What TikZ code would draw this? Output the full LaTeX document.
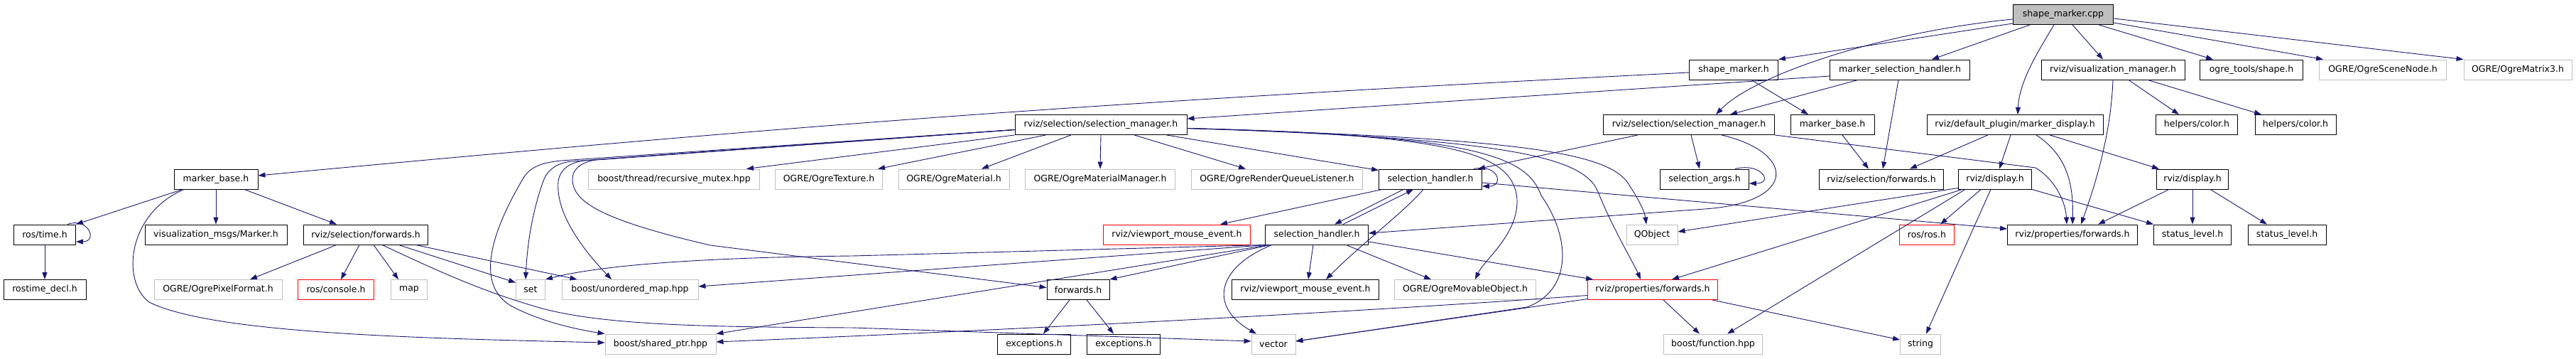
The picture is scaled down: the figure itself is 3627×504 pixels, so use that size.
\documentclass[tikz,border=0pt]{standalone}
\usepackage{fontspec}
\setmainfont{DejaVu Sans}
\usepackage{tikz}
\usetikzlibrary{arrows.meta}
\definecolor{edgeblue}{HTML}{191970}
\definecolor{grey75}{HTML}{BFBFBF}
\begin{document}
\begin{tikzpicture}[x=1pt, y=-1pt,
    box/.style={draw, line width=0.9pt, minimum height=28pt, inner sep=0pt, font=\fontsize{12.5}{15}\selectfont},
    doc/.style={box, draw=black},
    ext/.style={box, draw=grey75},
    trunc/.style={box, draw=red},
    root/.style={box, draw=black, fill=grey75},
    dep/.style={draw=edgeblue, line width=0.9pt, -{Triangle[length=10pt,width=7pt]}}]
    \useasboundingbox (0,0) rectangle (3627,504);

    \node [root, minimum width=141pt] (smc) at (2905,20.5) {shape\_marker.cpp};

    \node [doc, minimum width=125pt] (smh) at (2441,98) {shape\_marker.h};
    \node [doc, minimum width=197pt] (msh) at (2675,98) {marker\_selection\_handler.h};
    \node [doc, minimum width=202pt] (vism) at (2975,98) {rviz/visualization\_manager.h};
    \node [doc, minimum width=145pt] (ogreshape) at (3170,98) {ogre\_tools/shape.h};
    \node [ext, minimum width=179pt] (scenenode) at (3355,98) {OGRE/OgreSceneNode.h};
    \node [ext, minimum width=152pt] (matrix3) at (3545,98) {OGRE/OgreMatrix3.h};

    \node [doc, minimum width=242pt] (selmgrL) at (1550,175.5) {rviz/selection/selection\_manager.h};
    \node [doc, minimum width=241pt] (selmgrR) at (2378,175.5) {rviz/selection/selection\_manager.h};
    \node [doc, minimum width=118pt] (mbaseR) at (2580,175.5) {marker\_base.h};
    \node [doc, minimum width=248pt] (mdisp) at (2837,175.5) {rviz/default\_plugin/marker\_display.h};
    \node [doc, minimum width=115pt] (colorA) at (3093,175.5) {helpers/color.h};
    \node [doc, minimum width=114pt] (colorB) at (3232,175.5) {helpers/color.h};

    \node [doc, minimum width=118pt] (mbaseL) at (304,252) {marker\_base.h};
    \node [ext, minimum width=241pt] (rmutex) at (949,252) {boost/thread/recursive\_mutex.hpp};
    \node [ext, minimum width=151pt] (texture) at (1167,252) {OGRE/OgreTexture.h};
    \node [ext, minimum width=156pt] (material) at (1343,252) {OGRE/OgreMaterial.h};
    \node [ext, minimum width=211pt] (matmgr) at (1549,252) {OGRE/OgreMaterialManager.h};
    \node [ext, minimum width=241pt] (rql) at (1798,252) {OGRE/OgreRenderQueueListener.h};
    \node [doc, minimum width=145pt] (shandA) at (2014,252) {selection\_handler.h};
    \node [doc, minimum width=125pt] (sargs) at (2400,252) {selection\_args.h};
    \node [doc, minimum width=175pt] (selfwdR) at (2649,252) {rviz/selection/forwards.h};
    \node [doc, minimum width=103pt] (dispA) at (2809,252) {rviz/display.h};
    \node [doc, minimum width=101pt] (dispB) at (3087,252) {rviz/display.h};

    \node [doc, minimum width=87pt] (rostime) at (63,330) {ros/time.h};
    \node [doc, minimum width=200pt] (vmarker) at (304,330) {visualization\_msgs/Marker.h};
    \node [doc, minimum width=175pt] (selfwdL) at (515,330) {rviz/selection/forwards.h};
    \node [trunc, minimum width=207pt] (vmeA) at (1657,330) {rviz/viewport\_mouse\_event.h};
    \node [doc, minimum width=145pt] (shandB) at (1854,330) {selection\_handler.h};
    \node [ext, minimum width=72pt] (qobject) at (2326,330) {QObject};
    \node [trunc, minimum width=77pt] (rosros) at (2713,330) {ros/ros.h};
    \node [doc, minimum width=183pt] (propfwdR) at (2918,330) {rviz/properties/forwards.h};
    \node [doc, minimum width=109pt] (statusA) at (3087,330) {status\_level.h};
    \node [doc, minimum width=110pt] (statusB) at (3220,330) {status\_level.h};

    \node [doc, minimum width=116pt] (rostimedecl) at (63,407.5) {rostime\_decl.h};
    \node [ext, minimum width=180pt] (pixfmt) at (307,407.5) {OGRE/OgrePixelFormat.h};
    \node [trunc, minimum width=107pt] (console) at (473,407.5) {ros/console.h};
    \node [ext, minimum width=51pt] (map) at (576,407.5) {map};
    \node [ext, minimum width=41pt] (set) at (747,407.5) {set};
    \node [ext, minimum width=192pt] (umap) at (887,407.5) {boost/unordered\_map.hpp};
    \node [doc, minimum width=88pt] (fwd) at (1518,407.5) {forwards.h};
    \node [doc, minimum width=207pt] (vmeB) at (1838,407.5) {rviz/viewport\_mouse\_event.h};
    \node [ext, minimum width=199pt] (movable) at (2063,407.5) {OGRE/OgreMovableObject.h};
    \node [trunc, minimum width=183pt] (propfwdA) at (2327,407.5) {rviz/properties/forwards.h};

    \node [ext, minimum width=156pt] (sharedptr) at (930,484) {boost/shared\_ptr.hpp};
    \node [doc, minimum width=103pt] (excA) at (1456,484) {exceptions.h};
    \node [doc, minimum width=103pt] (excB) at (1582,484) {exceptions.h};
    \node [ext, minimum width=62pt] (vector) at (1793,484) {vector};
    \node [ext, minimum width=139pt] (function) at (2412,484) {boost/function.hpp};
    \node [ext, minimum width=57pt] (string) at (2704,484) {string};

    \draw [dep] ([yshift=2pt]smc.south west) -- (smh.north east);
    \draw [dep] ([yshift=8pt]smc.south west) .. controls (2650,45) and (2470,105) .. ([xshift=38pt]selmgrR.north);
    \draw [dep] ([xshift=24pt]smc.south west) -- ([xshift=45pt]msh.north);
    \draw [dep] ([xshift=-13pt]smc.south) .. controls (2868,75) and (2843,115) .. ([xshift=4pt]mdisp.north);
    \draw [dep] ([xshift=13pt]smc.south) -- ([xshift=-14pt]vism.north);
    \draw [dep] ([xshift=50pt]smc.south) -- ([xshift=-54pt]ogreshape.north);
    \draw [dep] ([yshift=3pt]smc.south east) -- ([xshift=6pt]scenenode.north west);
    \draw [dep] ([yshift=9pt]smc.south east) -- (matrix3.north west);

    \draw [dep] ([yshift=-4pt]smh.west) .. controls (1579,142) and (1163,172) .. ([yshift=5pt]mbaseL.east);
    \draw [dep] ([xshift=25pt]smh.south) -- ([xshift=-34pt]mbaseR.north);

    \draw [dep] ([yshift=-9pt]msh.west) -- ([yshift=8.5pt]selmgrL.east);
    \draw [dep] ([xshift=40pt]msh.south west) -- ([xshift=58pt]selmgrR.north);
    \draw [dep] ([xshift=-2pt]msh.south) -- ([xshift=2pt]selfwdR.north);

    \draw [dep] ([xshift=22pt]vism.south) -- ([xshift=-25pt]colorA.north);
    \draw [dep] ([xshift=49pt]vism.south) -- ([xshift=-48pt]colorB.north);
    \draw [dep] (vism.south) .. controls (2972,190) and (2950,260) .. ([xshift=12pt]propfwdR.north);

    \draw [dep] ([xshift=49pt]selmgrR.south west) -- ([xshift=-6pt]shandA.north east);
    \draw [dep] ([xshift=3pt]selmgrR.south) -- ([xshift=-7pt]sargs.north);
    \draw [dep] ([xshift=46pt]selmgrR.south) .. controls (2530,215) and (2530,285) .. (2400,294) -- ([yshift=2pt]shandB.east);
    \draw [dep] (selmgrR.south east) -- (2866,236) .. controls (2890,250) and (2908,280) .. ([xshift=-8pt]propfwdR.north);
    \draw [dep] ([xshift=-20pt]sargs.north east) .. controls (2480,228) and (2498,258) .. ([yshift=-6pt]sargs.east);

    \draw [dep] ([xshift=14pt]mbaseR.south) -- ([xshift=-18pt]selfwdR.north);
    \draw [dep] ([xshift=-38pt]mdisp.south) -- ([xshift=40pt]selfwdR.north);
    \draw [dep] ([xshift=-6pt]mdisp.south) -- ([xshift=6pt]dispA.north);
    \draw [dep] ([xshift=30pt]mdisp.south) .. controls (2905,215) and (2920,250) .. (propfwdR.north);
    \draw [dep] ([xshift=49pt]mdisp.south) -- ([xshift=4pt]dispB.north west);

    \draw [dep] ([xshift=-33pt]dispB.south) -- ([xshift=36pt]propfwdR.north);
    \draw [dep] (dispB.south) -- (statusA.north);
    \draw [dep] ([xshift=25pt]dispB.south) -- ([xshift=-28pt]statusB.north);

    \draw [dep] (dispA.south east) -- (statusA.north west);
    \draw [dep] ([xshift=-20pt]dispA.south) -- ([xshift=19pt]rosros.north);
    \draw [dep] ([xshift=-6pt]dispA.south) -- ([xshift=8pt]string.north);
    \draw [dep] ([xshift=10pt]dispA.south west) -- ([xshift=20pt]function.north);
    \draw [dep] ([xshift=6pt]dispA.south west) -- ([xshift=27pt]propfwdA.north);
    \draw [dep] ([yshift=2pt]dispA.south west) -- ([yshift=4pt]qobject.east);

    \draw [dep] (selmgrL.south west) -- ([xshift=102pt]rmutex.north);
    \draw [dep] ([xshift=44pt]selmgrL.south west) -- ([xshift=69pt]texture.north);
    \draw [dep] ([xshift=-42pt]selmgrL.south) -- ([xshift=39pt]material.north);
    \draw [dep] (selmgrL.south) -- (matmgr.north);
    \draw [dep] ([xshift=47pt]selmgrL.south) -- ([xshift=-44pt]rql.north);
    \draw [dep] ([xshift=-29pt]selmgrL.south east) -- ([yshift=-2pt]shandA.north west);
    \draw [dep] ([yshift=-7pt]selmgrL.west) -- (790,226) .. controls (760,229) and (745,236) .. (736,252) .. controls (690,330) and (670,400) .. (719,430) .. controls (760,452) and (810,463) .. (sharedptr.north west);
    \draw [dep] ([yshift=-7pt]selmgrL.west) -- (805,227) .. controls (785,229) and (772,238) .. (766,252) .. controls (748,300) and (742,350) .. ([xshift=-7pt]set.north);
    \draw [dep] ([yshift=-7pt]selmgrL.west) -- (822,226) .. controls (800,229) and (788,240) .. (786,255) .. controls (782,300) and (820,350) .. ([xshift=-26pt]umap.north);
    \draw [dep] ([yshift=-7pt]selmgrL.west) -- (838,225) .. controls (815,229) and (806,240) .. (806,252) .. controls (806,285) and (850,310) .. (1000,345) -- ([yshift=3pt]fwd.west);
    \draw [dep] ([yshift=-5pt]selmgrL.east) .. controls (2050,190) and (2130,215) .. (2136,280) .. controls (2138,330) and (2090,365) .. ([xshift=14pt]movable.north);
    \draw [dep] ([yshift=-5pt]selmgrL.east) .. controls (2080,190) and (2150,220) .. (2170,275) .. controls (2215,340) and (2210,410) .. (2150,432) -- ([yshift=4pt]vector.east);
    \draw [dep] ([yshift=-5pt]selmgrL.east) .. controls (2120,195) and (2230,220) .. (2250,270) .. controls (2270,320) and (2300,370) .. ([xshift=-17pt]propfwdA.north);
    \draw [dep] ([yshift=-5pt]selmgrL.east) .. controls (2150,195) and (2270,215) .. (2295,262) .. controls (2310,285) and (2316,300) .. ([xshift=-8pt]qobject.north);

    \draw [dep] ([xshift=-12pt]shandA.north east) .. controls (2110,230) and (2118,262) .. ([yshift=-10pt]shandA.east);
    \draw [dep] ([xshift=-38pt]shandA.south) -- ([xshift=25pt]shandB.north);
    \draw [dep] ([xshift=5pt]shandA.south west) -- ([xshift=61pt]vmeA.north);
    \draw [dep] ([xshift=-10pt]shandA.south) .. controls (1975,300) and (1920,340) .. ([xshift=29pt]vmeB.north);
    \draw [dep] ([yshift=-5pt]shandA.east) -- ([yshift=8pt]propfwdR.west);

    \draw [dep] ([xshift=37pt]shandB.north) -- ([xshift=-24pt]shandA.south);
    \draw [dep] ([xshift=-5pt]shandB.south) -- ([xshift=4pt]vmeB.north);
    \draw [dep] ([xshift=41pt]shandB.south) -- ([xshift=-48pt]movable.north);
    \draw [dep] ([yshift=-10pt]shandB.east) -- ([xshift=8pt]propfwdA.north west);
    \draw [dep] (shandB.south west) -- (1200,360) .. controls (1000,362) and (850,372) .. (set.north east);
    \draw [dep] ([xshift=3pt]shandB.south west) -- ([yshift=4.5pt]umap.east);
    \draw [dep] ([xshift=6pt]shandB.south west) -- (sharedptr.north east);
    \draw [dep] ([xshift=8pt]shandB.south west) -- (fwd.north east);
    \draw [dep] ([xshift=10pt]shandB.south west) .. controls (1715,375) and (1700,430) .. ([xshift=-24pt]vector.north);

    \draw [dep] ([xshift=-47pt]mbaseL.south) -- (rostime.north east);
    \draw [dep] (mbaseL.south) -- (vmarker.north);
    \draw [dep] ([xshift=40pt]mbaseL.south) -- ([xshift=-41pt]selfwdL.north);
    \draw [dep] ([xshift=-45pt]mbaseL.south) .. controls (180,300) and (170,395) .. (210,425) .. controls (300,470) and (600,476) .. ([yshift=2pt]sharedptr.west);

    \draw [dep] ([xshift=-12pt]rostime.north east) .. controls (125,305) and (138,340) .. ([yshift=-10pt]rostime.east);
    \draw [dep] (rostime.south) -- (rostimedecl.north);

    \draw [dep] ([xshift=-41pt]selfwdL.south) -- ([xshift=45pt]pixfmt.north);
    \draw [dep] ([xshift=-9pt]selfwdL.south) -- ([xshift=7pt]console.north);
    \draw [dep] ([xshift=11pt]selfwdL.south) -- ([xshift=-15pt]map.north);
    \draw [dep] ([xshift=23pt]selfwdL.south) .. controls (620,383) and (680,410) .. (760,433) .. controls (850,458) and (1000,460) .. (1200,461) -- ([yshift=4pt]vector.west);
    \draw [dep] ([xshift=46pt]selfwdL.south) -- ([yshift=10pt]set.west);
    \draw [dep] ([xshift=70pt]selfwdL.south) -- ([xshift=22pt]umap.north west);

    \draw [dep] ([xshift=-12pt]fwd.south) -- ([xshift=13pt]excA.north);
    \draw [dep] ([xshift=12pt]fwd.south) -- ([xshift=-14pt]excB.north);

    \draw [dep] ([yshift=-13pt]propfwdA.west) -- ([yshift=4pt]vector.east);
    \draw [dep] ([yshift=-8pt]propfwdA.west) .. controls (1900,440) and (1400,465) .. ([yshift=3pt]sharedptr.east);
    \draw [dep] ([xshift=15pt]propfwdA.south) -- ([xshift=-19pt]function.north);
    \draw [dep] ([xshift=-8pt]propfwdA.south east) -- ([yshift=6pt]string.west);
\end{tikzpicture}
\end{document}
